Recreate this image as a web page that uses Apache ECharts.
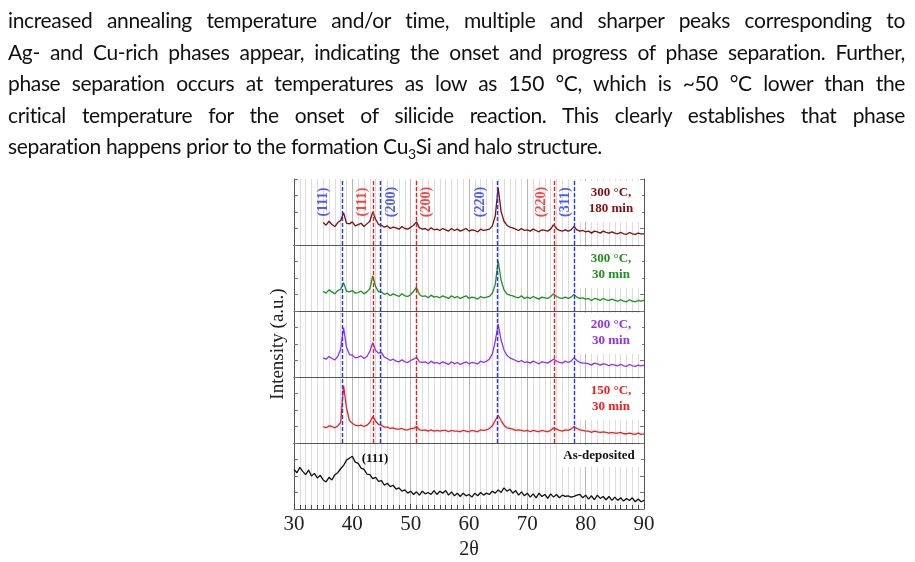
<!DOCTYPE html>
<html lang="en">
<head>
  <meta charset="utf-8">
  <meta name="viewport" content="width=device-width, initial-scale=1">
  <title>XRD annealing</title>
  <style>
    body { margin: 0; background: #fff; }
    #texto { position: absolute; left: 8px; top: 4px; width: 897px; z-index: 2;
      font-family: Lato, "Noto Sans", sans-serif; font-size: 21px; letter-spacing: -0.35px;
      line-height: 31.6px; color: #111; }
    #texto div { text-align: justify; text-align-last: justify; white-space: nowrap; }
    #texto div.ultima { text-align-last: left; }
    #texto sub { font-size: 14px; line-height: 0; }
    #chart1 { position: absolute; left: 0; top: 0; width: 915px; height: 562px; }
  </style>
</head>
<body>

<script src="https://cdn.jsdelivr.net/npm/echarts@6.0.0/dist/echarts.min.js"></script>

<div id="texto">
  <div>increased annealing temperature and/or time, multiple and sharper peaks corresponding to</div>
  <div>Ag- and Cu-rich phases appear, indicating the onset and progress of phase separation. Further,</div>
  <div>phase separation occurs at temperatures as low as 150 °C, which is ~50 °C lower than the</div>
  <div>critical temperature for the onset of silicide reaction. This clearly establishes that phase</div>
  <div class="ultima">separation happens prior to the formation Cu<sub>3</sub>Si and halo structure.</div>
</div>
<div id="chart1"></div>

<script>
  // 2theta sampling: annealed scans start at 35, as-deposited at 30, step 0.5
  var xStep = 0.5;
  var annealStart = 35;
  var asDepStart = 30;

  // intensities, each panel scaled 0-100
  var s300_180 = [
    34,30,36,31,28,34,37,49,33,32,
    35,29,31,33,28,32,36,50,39,31,
    30,27,29,25,27,26,24,28,25,24,
    27,30,35,26,24,25,22,26,23,24,
    22,25,23,21,25,22,24,21,23,25,
    21,23,22,20,24,22,23,24,29,44,
    87,51,36,30,27,26,24,22,25,22,
    23,21,24,22,20,23,22,21,24,31,
    25,22,21,23,21,23,28,23,21,22,
    20,21,18,21,20,18,21,19,18,20,
    18,17,19,17,16,19,17,16,18,17,
    17];
  var s300_30 = [
    30,27,32,29,26,31,33,43,30,29,
    31,27,28,30,26,29,34,53,37,29,
    29,25,27,23,26,24,22,26,23,22,
    25,30,36,25,22,23,20,24,21,22,
    20,23,21,19,23,20,22,19,21,23,
    19,21,20,18,22,20,21,22,27,40,
    76,47,32,26,24,23,21,20,23,19,
    21,19,22,20,18,21,20,19,22,26,
    22,20,19,21,19,21,25,21,19,20,
    18,19,16,19,18,16,19,17,16,18,
    16,15,17,15,14,17,15,14,16,15,
    16];
  var s200_30 = [
    29,27,31,28,26,31,42,75,45,34,
    33,29,30,32,28,31,39,52,40,36,
    37,30,28,25,27,24,23,26,23,22,
    25,27,30,23,22,23,20,24,21,22,
    20,23,21,19,23,20,22,19,21,23,
    20,22,21,20,24,22,24,27,35,54,
    80,56,41,33,29,27,25,23,25,22,
    23,21,24,22,20,23,22,21,24,27,
    24,22,21,24,22,24,29,25,22,21,
    21,20,18,21,20,18,20,19,17,19,
    18,17,19,17,16,19,17,16,18,17,
    18];
  var s150_30 = [
    25,23,26,25,23,26,31,87,53,34,
    30,27,26,27,25,27,31,40,33,28,
    27,24,24,22,23,21,21,22,20,20,
    22,22,25,20,19,20,18,20,18,19,
    18,19,19,17,19,18,18,17,19,18,
    17,19,18,17,20,19,20,22,26,34,
    42,34,27,23,22,21,19,20,19,18,
    19,17,19,18,17,19,18,17,19,23,
    21,19,18,20,19,21,25,22,20,19,
    18,18,16,18,17,16,17,16,15,16,
    15,15,16,14,14,15,14,13,15,13,
    14];
  var asDeposited = [
    60,55,63,57,52,59,50,54,47,51,
    44,41,48,44,52,55,61,66,74,77,
    80,71,69,62,60,53,52,46,48,42,
    43,36,39,34,36,30,32,27,29,24,
    27,22,26,21,27,23,25,22,28,22,
    27,24,28,21,26,20,24,19,24,20,
    22,18,24,20,25,21,24,22,27,24,
    29,25,32,27,30,24,28,21,26,20,
    24,18,23,17,24,19,22,16,23,18,
    22,17,21,19,20,18,19,21,22,17,
    21,15,20,14,21,16,19,14,19,13,
    18,13,17,12,16,13,17,11,15,11,
    13];

  var panelNames = ['300 °C,\n180 min', '300 °C,\n30 min', '200 °C,\n30 min', '150 °C,\n30 min', 'As-deposited'];
  var panelColors = ['#7d0f0f', '#1f8f1f', '#9230f0', '#f21d1d', '#111111'];

  // reference peak positions (blue = Ag, red = Cu)
  var refPos = [38.35, 43.5, 44.85, 50.9, 64.9, 74.6, 78.05];
  var refColor = ['#2636f0', '#f01c1c', '#2636f0', '#f01c1c', '#2636f0', '#f01c1c', '#2636f0'];
  var refNames = ['(111)', '(111)', '(200)', '(200)', '(220)', '(220)', '(311)'];
  var refLabelX = [34.97, 41.78, 46.75, 52.75, 61.89, 72.46, 76.46];
  var refLabelY = 65;

  var serif = '"Liberation Serif", "Times New Roman", serif';

  function pares(start, vals) {
    return vals.map(function (v, i) { return [start + i * xStep, v]; });
  }

  function cargar_chart() {
    var chart1 = echarts.init(document.getElementById('chart1'));
    var tops = [179, 245, 311, 377, 443];
    var grids = [], xAxes = [], yAxes = [], series = [], graphics = [];

    tops.forEach(function (t, i) {
      var last = (i === 4);
      grids.push({ left: 294, width: 350, top: t, height: 66 });
      xAxes.push({
        gridIndex: i, type: 'value', min: 30, max: 90, interval: 10,
        axisLine: { show: true, onZero: false, lineStyle: { color: '#555', width: 1 } },
        axisTick: { show: last, inside: true, length: 5, lineStyle: { color: '#444' } },
        minorTick: { show: last, splitNumber: 10, length: 4, lineStyle: { color: '#444' } },
        axisLabel: { show: last, fontFamily: serif, fontSize: 21, color: '#222', margin: 5 },
        splitLine: { show: true, lineStyle: { color: '#b5b5b5', width: 1 } },
        minorSplitLine: { show: true, lineStyle: { color: '#dcdcdc', width: 1 } },
        name: last ? '2θ' : '', nameLocation: 'middle', nameGap: 31,
        nameTextStyle: { fontFamily: serif, fontSize: 20, color: '#222' }
      });
    });
    // top frame line
    xAxes.push({
      gridIndex: 0, type: 'value', position: 'top', min: 30, max: 90,
      axisLine: { show: true, lineStyle: { color: '#555' } },
      axisTick: { show: false }, axisLabel: { show: false }, splitLine: { show: false }
    });

    ['left', 'right'].forEach(function (side) {
      tops.forEach(function (t, i) {
        yAxes.push({
          gridIndex: i, type: 'value', position: side, min: 0, max: 100, interval: 25,
          axisLine: { show: true, lineStyle: { color: '#555' } },
          axisTick: { show: true, inside: true, length: 4, lineStyle: { color: '#777' } },
          axisLabel: { show: false }, splitLine: { show: false },
          name: (side === 'left' && i === 2) ? 'Intensity (a.u.)' : '',
          nameLocation: 'middle', nameGap: 6,
          nameTextStyle: { fontFamily: serif, fontSize: 19, color: '#222' }
        });
      });
    });

    var annealed = [s300_180, s300_30, s200_30, s150_30];
    annealed.forEach(function (vals, i) {
      series.push({
        type: 'line', xAxisIndex: i, yAxisIndex: i, showSymbol: false, z: 3,
        data: pares(annealStart, vals),
        lineStyle: { color: panelColors[i], width: 1.3 },
        markLine: {
          silent: true, symbol: ['none', 'none'], label: { show: false },
          data: refPos.map(function (x, k) {
            return { xAxis: x, lineStyle: { color: refColor[k], type: [4, 2], width: 1.4 } };
          })
        }
      });
    });
    series.push({
      type: 'line', xAxisIndex: 4, yAxisIndex: 4, showSymbol: false, z: 3,
      data: pares(asDepStart, asDeposited),
      lineStyle: { color: panelColors[4], width: 1.3 }
    });
    // vertical peak labels in the top panel
    series.push({
      type: 'scatter', xAxisIndex: 0, yAxisIndex: 0, symbolSize: 0, silent: true, z: 4,
      data: refNames.map(function (n, k) {
        return {
          value: [refLabelX[k], refLabelY], name: n,
          label: { color: refColor[k] }
        };
      }),
      label: {
        show: true, position: 'inside', rotate: 90, formatter: '{b}',
        fontFamily: serif, fontWeight: 'bold', fontSize: 14
      }
    });

    // sample labels with white boxes
    panelNames.forEach(function (n, i) {
      var t = tops[i];
      if (i < 4) {
        graphics.push({ type: 'rect', z: 1, silent: true,
          shape: { x: 578, y: t + 2, width: 64, height: 41 }, style: { fill: '#fff' } });
        graphics.push({ type: 'text', z: 5, silent: true,
          style: { text: n, x: 611, y: t + 22, fill: panelColors[i],
            font: 'bold 13px ' + serif, lineHeight: 16,
            textAlign: 'center', textVerticalAlign: 'middle', align: 'center', verticalAlign: 'middle' } });
      } else {
        graphics.push({ type: 'rect', z: 1, silent: true,
          shape: { x: 557, y: t + 2, width: 84, height: 22 }, style: { fill: '#fff' } });
        graphics.push({ type: 'text', z: 5, silent: true,
          style: { text: n, x: 599, y: t + 13, fill: panelColors[i],
            font: 'bold 13px ' + serif,
            textAlign: 'center', textVerticalAlign: 'middle', align: 'center', verticalAlign: 'middle' } });
        graphics.push({ type: 'text', z: 5, silent: true,
          style: { text: '(111)', x: 375, y: t + 16, fill: '#111',
            font: 'bold 13px ' + serif,
            textAlign: 'center', textVerticalAlign: 'middle', align: 'center', verticalAlign: 'middle' } });
      }
    });

    var option = {
      animation: false,
      grid: grids,
      xAxis: xAxes,
      yAxis: yAxes,
      series: series,
      graphic: graphics
    };
    chart1.setOption(option);
  }

  cargar_chart();
</script>

</body>
</html>
